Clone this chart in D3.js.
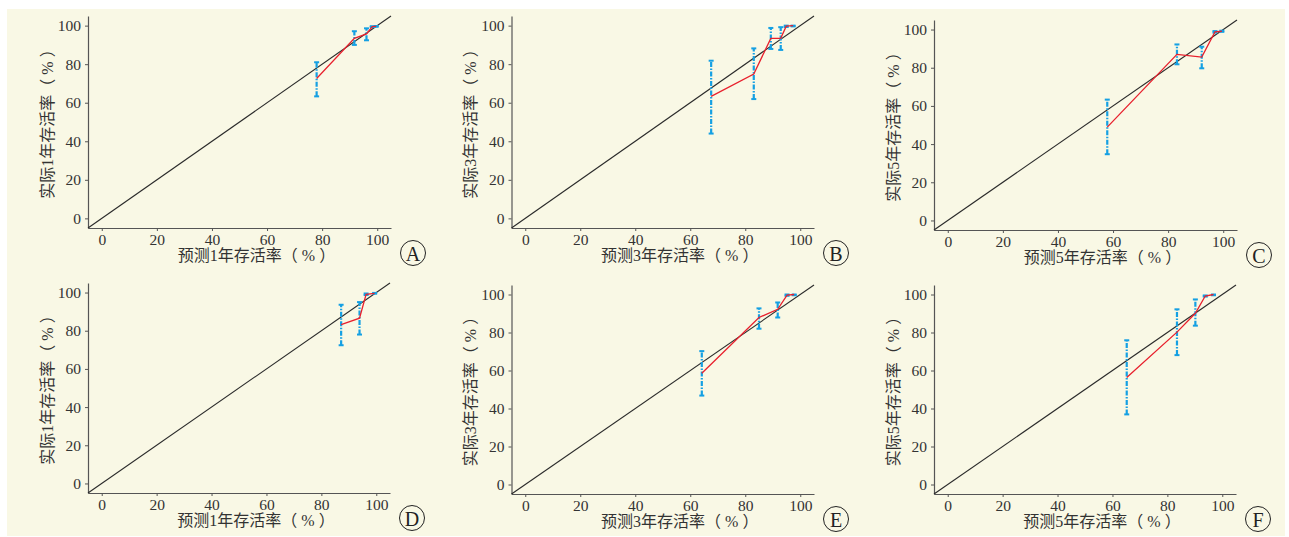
<!DOCTYPE html>
<html>
<head>
<meta charset="utf-8">
<script src="https://cdn.jsdelivr.net/npm/d3@7"></script>
<style>
    body { margin: 0; background: #ffffff; }
    svg text { font-family: "Liberation Serif", "Noto Sans CJK SC", serif; }
</style>
</head>
<body>
<svg id="chart" width="1289" height="537"></svg>
<script>
// calibration data (percent)
var letters = ["A", "B", "C", "D", "E", "F"];
var years = [1, 3, 5, 1, 3, 5];
var ticks = [0, 20, 40, 60, 80, 100];

var predA = [78.0, 91.7, 96.1, 98.2, 99.6];
var obsA = [72.6, 93.4, 95.7, 99.5, 99.6];
var loA = [63.3, 90.0, 92.4, 99.3, 99.4];
var hiA = [81.0, 97.1, 98.6, 99.7, 99.8];

var predB = [67.6, 83.1, 89.3, 92.9, 94.9, 97.4];
var obsB = [63.3, 74.9, 93.4, 93.4, 99.7, 100];
var loB = [44.0, 61.9, 87.9, 87.4, 99.3, 99.6];
var hiB = [81.8, 88.2, 98.8, 99.2, 100, 100];

var predC = [57.9, 83.2, 92.2, 97.0, 99.5];
var obsC = [48.9, 87.0, 85.6, 98.8, 99.1];
var loC = [34.7, 81.8, 79.7, 98.4, 98.8];
var hiC = [63.3, 92.2, 91.0, 99.2, 99.4];

var predD = [87.2, 93.9, 96.3, 99.4];
var obsD = [83.2, 86.6, 99.1, 99.6];
var loD = [72.4, 78.0, 98.7, 99.4];
var hiD = [93.6, 95.0, 99.5, 99.8];

var predE = [64.2, 85.0, 91.8, 95.2, 97.8];
var obsE = [58.6, 87.9, 92.2, 99.7, 100];
var loE = [46.8, 82.0, 87.9, 99.3, 99.6];
var hiE = [70.2, 92.7, 95.8, 100, 100];

var predF = [65.2, 83.5, 90.2, 93.8, 96.8];
var obsF = [56.3, 80.2, 90.1, 99.2, 100];
var loF = [36.9, 68.1, 83.6, 98.9, 99.6];
var hiF = [75.9, 92.2, 97.4, 99.5, 100];

var series = [
    [predA, obsA, loA, hiA],
    [predB, obsB, loB, hiB],
    [predC, obsC, loC, hiC],
    [predD, obsD, loD, hiD],
    [predE, obsE, loE, hiE],
    [predF, obsF, loF, hiF]
];

// plot boxes in pixels: left, right, top, bottom
var boxes = [
    [88, 391, 16, 228],
    [511.5, 814, 16, 228],
    [934, 1237, 20, 230],
    [88, 390, 283, 493],
    [511.5, 814, 285, 494],
    [934, 1236, 285, 494]
];

var svg = d3.select("#chart");

svg.append("rect")
    .attr("x", 7).attr("y", 9)
    .attr("width", 1278).attr("height", 527)
    .attr("fill", "#f9f8e5");

var drawPanel = function (i) {
    var b = boxes[i], s = series[i], x, y, g, pts, line, ax, ay;

    x = d3.scaleLinear().domain([-5, 105]).range([b[0], b[1]]);
    y = d3.scaleLinear().domain([-5, 105]).range([b[3], b[2]]);

    g = svg.append("g");

    ax = g.append("g")
        .attr("transform", "translate(0," + b[3] + ")")
        .call(d3.axisBottom(x).tickValues(ticks).tickSize(3).tickPadding(3).tickSizeOuter(0));
    ay = g.append("g")
        .attr("transform", "translate(" + b[0] + ",0)")
        .call(d3.axisLeft(y).tickValues(ticks).tickSize(3).tickPadding(4).tickSizeOuter(0));
    [ax, ay].forEach(function (a) {
        a.select(".domain").attr("stroke", "#555").attr("stroke-width", 1.2);
        a.selectAll(".tick line").attr("stroke", "#555");
        a.selectAll("text").attr("fill", "#333").attr("font-size", 15.5);
    });

    // reference diagonal
    g.append("line")
        .attr("x1", x(-5)).attr("y1", y(-5))
        .attr("x2", x(105)).attr("y2", y(105))
        .attr("stroke", "#2a2a2a").attr("stroke-width", 1.1);

    pts = s[0].map(function (p, k) {
        return { p: p, o: s[1][k], lo: s[2][k], hi: s[3][k] };
    });

    // error bars
    var bars = g.selectAll(".eb").data(pts).enter().append("g");
    bars.append("line")
        .attr("x1", function (d) { return x(d.p); })
        .attr("x2", function (d) { return x(d.p); })
        .attr("y1", function (d) { return y(d.lo); })
        .attr("y2", function (d) { return y(d.hi); })
        .attr("stroke", "#15a0e3").attr("stroke-width", 2.2)
        .attr("stroke-dasharray", "5,1.5,1.5,1.5");
    ["lo", "hi"].forEach(function (key) {
        bars.append("line")
            .attr("x1", function (d) { return x(d.p) - 2.5; })
            .attr("x2", function (d) { return x(d.p) + 2.5; })
            .attr("y1", function (d) { return y(d[key]); })
            .attr("y2", function (d) { return y(d[key]); })
            .attr("stroke", "#15a0e3").attr("stroke-width", 2);
    });

    line = d3.line()
        .x(function (d) { return x(d.p); })
        .y(function (d) { return y(d.o); });
    g.append("path")
        .datum(pts)
        .attr("d", line)
        .attr("fill", "none")
        .attr("stroke", "#e8202d").attr("stroke-width", 1.3);

    // titles
    g.append("text")
        .attr("x", (b[0] + b[1]) / 2 + 17)
        .attr("y", b[3] + 27)
        .attr("dominant-baseline", "central")
        .attr("text-anchor", "middle")
        .attr("font-size", 16).attr("fill", "#333")
        .text("预测" + years[i] + "年存活率（ % ）");
    g.append("text")
        .attr("transform", "translate(" + (b[0] - 41) + "," + ((b[2] + b[3]) / 2 - 2) + ") rotate(-90)")
        .attr("dominant-baseline", "central")
        .attr("text-anchor", "middle")
        .attr("font-size", 16).attr("fill", "#333")
        .text("实际" + years[i] + "年存活率（ % ）");

    // circled panel letter
    g.append("circle")
        .attr("cx", b[1] + 22).attr("cy", b[3] + 25)
        .attr("r", 12.5)
        .attr("fill", "none").attr("stroke", "#222").attr("stroke-width", 1);
    g.append("text")
        .attr("x", b[1] + 22).attr("y", b[3] + 26)
        .attr("dominant-baseline", "central")
        .attr("text-anchor", "middle")
        .attr("font-size", 20).attr("fill", "#222")
        .text(letters[i]);
};

letters.forEach(function (l, i) { drawPanel(i); });
</script>
</body>
</html>
